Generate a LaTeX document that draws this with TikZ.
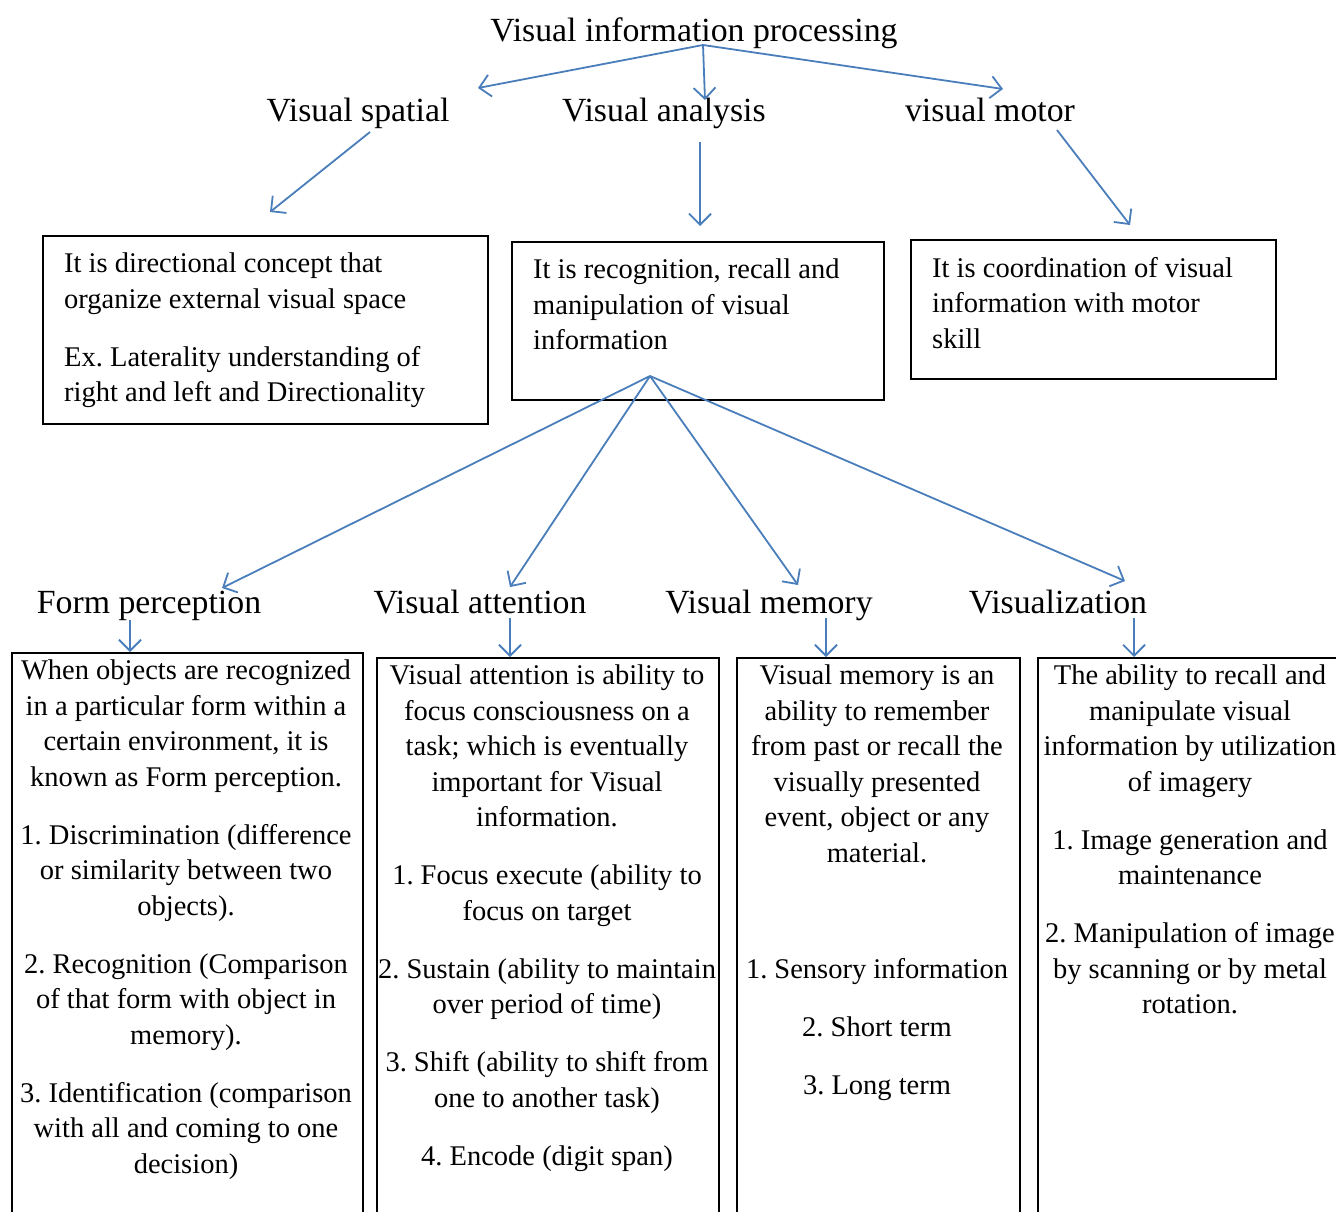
\documentclass[tikz,border=0pt]{standalone}
\usepackage{fontspec}
\setmainfont{Liberation Serif}
\usepackage{tikz}
\usetikzlibrary{positioning,arrows.meta}
\definecolor{arrowblue}{RGB}{74,126,187}
\frenchspacing

\begin{document}
\begin{tikzpicture}[x=1pt, y=-1pt,
    head/.style={font=\fontsize{33.8}{40}\selectfont, anchor=base, inner sep=0pt},
    box/.style={draw, line width=2pt, anchor=north west, inner sep=0pt},
    bodytext/.style={font=\fontsize{28.5}{35.5}\selectfont, inner sep=0pt},
    lefttext/.style={bodytext, align=left, anchor=north west},
    midtext/.style={bodytext, align=center, anchor=north},
    arrow/.style={-{Straight Barb[length=11pt,width=22pt]}, line width=1.8pt, draw=arrowblue}
]
    \useasboundingbox (0,0) rectangle (1336,1211);
    \clip (0,0) rectangle (1336,1211);

    % Top: main heading and its three branches
    \node[head] (main) at (694,41) {Visual information processing};
    \node[head] (spatial) at (358,121) {Visual spatial};
    \node[head] (analysis) at (664,121) {Visual analysis};
    \node[head] (motor) at (990,121) {visual motor};

    % Boxes below the branches
    \node[box, minimum width=445, minimum height=188] (spatialbox) at (42,235) {};
    \node[box, minimum width=372, minimum height=158] (analysisbox) at (511,241) {};
    \node[box, minimum width=365, minimum height=139] (motorbox) at (910,239) {};
    \node[lefttext] (spatialtext) at (64,253) {It is directional concept that\\organize external visual space\\[22.5pt]Ex. Laterality understanding of\\right and left and Directionality};
    \node[lefttext] (analysistext) at (533,259) {It is recognition, recall and\\manipulation of visual\\information};
    \node[lefttext] (motortext) at (932,257) {It is coordination of visual\\information with motor\\skill};

    % Second row: parts of visual analysis
    \node[head] (form) at (149,613) {Form perception};
    \node[head] (attention) at (480,613) {Visual attention};
    \node[head] (memory) at (769,613) {Visual memory};
    \node[head] (visualization) at (1058,613) {Visualization};

    \node[box, minimum width=351, minimum height=600] (formbox) at (11,652) {};
    \node[box, minimum width=342, minimum height=600] (attentionbox) at (376,657) {};
    \node[box, minimum width=283, minimum height=600] (memorybox) at (736,657) {};
    \node[box, minimum width=320, minimum height=600] (visualizationbox) at (1037,657) {};

    \node[midtext] (formtext) at (186,660) {When objects are recognized\\in a particular form within a\\certain environment, it is\\known as Form perception.\\[22.5pt]1. Discrimination (difference\\or similarity between two\\objects).\\[22.5pt]2. Recognition (Comparison\\of that form with object in\\memory).\\[22.5pt]3. Identification (comparison\\with all and coming to one\\decision)};
    \node[midtext] (attentiontext) at (547,665) {Visual attention is ability to\\focus consciousness on a\\task; which is eventually\\important for Visual\\information.\\[22.5pt]1. Focus execute (ability to\\focus on target\\[22.5pt]2. Sustain (ability to maintain\\over period of time)\\[22.5pt]3. Shift (ability to shift from\\one to another task)\\[22.5pt]4. Encode (digit span)};
    \node[midtext] (memorytext) at (877,665) {Visual memory is an\\ability to remember\\from past or recall the\\visually presented\\event, object or any\\material.\\[80.5pt]1. Sensory information\\[22.5pt]2. Short term\\[22.5pt]3. Long term};
    \node[midtext] (visualizationtext) at (1190,665) {The ability to recall and\\manipulate visual\\information by utilization\\of imagery\\[22.5pt]1. Image generation and\\maintenance\\[22.5pt]2. Manipulation of image\\by scanning or by metal\\rotation.};

    % Arrow end points
    \coordinate (hub) at (703,45);
    \coordinate (spatialin) at (478,88);
    \coordinate (analysisin) at (705,100);
    \coordinate (motorin) at (1003,89);
    \coordinate (spatialout) at (370,132);
    \coordinate (spatialboxin) at (270,212);
    \coordinate (analysisout) at (700,142);
    \coordinate (analysisboxin) at (700,226);
    \coordinate (motorout) at (1057,130);
    \coordinate (motorboxin) at (1130,225);
    \coordinate (fan) at (650,376);
    \coordinate (formin) at (222,588);
    \coordinate (attentionin) at (510,587);
    \coordinate (memoryin) at (798,585);
    \coordinate (visualizationin) at (1125,581);

    % Arrow Connections (top)
    \draw[arrow] (hub) -- (spatialin);
    \draw[arrow] (hub) -- (analysisin);
    \draw[arrow] (hub) -- (motorin);
    \draw[arrow] (spatialout) -- (spatialboxin);
    \draw[arrow] (analysisout) -- (analysisboxin);
    \draw[arrow] (motorout) -- (motorboxin);

    % Arrow Connections (fan out of visual analysis)
    \draw[arrow] (fan) -- (formin);
    \draw[arrow] (fan) -- (attentionin);
    \draw[arrow] (fan) -- (memoryin);
    \draw[arrow] (fan) -- (visualizationin);

    % Short arrows into the lower boxes
    \draw[arrow] (130,620) -- (formbox.north -| 130,0);
    \draw[arrow] (510,618) -- (attentionbox.north -| 510,0);
    \draw[arrow] (826,618) -- (memorybox.north -| 826,0);
    \draw[arrow] (1134,618) -- (visualizationbox.north -| 1134,0);

\end{tikzpicture}
\end{document}
